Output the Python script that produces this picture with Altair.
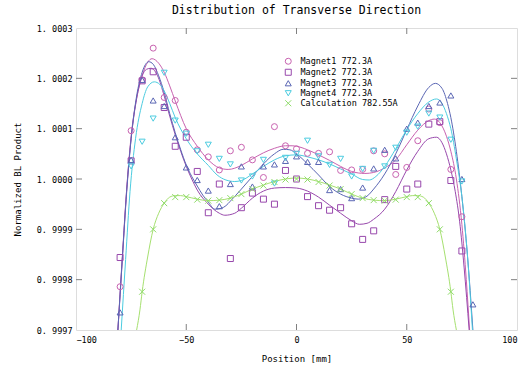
import altair as alt
import pandas as pd

# ---------------- data ----------------
SERIES = ["Magnet1 772.3A", "Magnet2 772.3A", "Magnet3 772.3A",
          "Magnet4 772.3A", "Calculation 782.55A"]
COLORS = ["#c862b0", "#9848ac", "#5a66b4", "#4ccce0", "#8fdc6a"]
LINE_COLORS = ["#c862b0", "#9848ac", "#5a66b4", "#4ccce0", "#a6e070"]
SHAPES = ["circle", "square", "triangle-up", "triangle-down",
          "M-1,-1L1,1M-1,1L1,-1"]

positions = list(range(-80, 85, 5))

# deviations from 1 in units of 1e-4
m1 = [-2.14, 0.96, 1.97, 2.6, 1.62, 1.56, 0.93, 0.58, 0.44, 0.18, 0.56,
      0.63, 0.38, 0.03, 1.04, 0.66, 0.6, 0.51, 0.51, 0.54, 0.17, 0.18,
      0.19, 0.56, 0.5, 0.09, 0.23, 0.76, 1.39, 1.12, 0.19, -0.75, None]
m2 = [-1.56, 0.36, 1.95, 2.13, 1.42, 0.65, 0.83, 0.15, -0.67, -0.1, -1.58,
      -0.57, -0.28, -0.4, -0.5, 0.17, 0.0, -0.35, -0.53, -0.62, -0.57,
      -0.89, -1.2, -1.03, -0.41, 0.25, -0.2, -0.1, 1.09, 1.14, -0.03,
      -1.43, None]
m3 = [-2.65, 0.38, 1.97, 1.56, 1.45, 0.83, 0.23, -0.02, -0.23, -0.54, -0.1,
      0.25, -0.15, 0.25, 0.29, 0.36, 0.45, 0.34, 0.34, -0.22, -0.2, -0.38,
      -0.17, 0.21, 0.58, 0.41, 1.0, 1.12, 1.45, 1.52, 1.66, 0.0, -2.49]
m4 = [None, 0.25, 0.74, 1.2, 2.11, 1.16, 0.9, 0.55, 0.68, 0.4, 0.29, -0.03,
      0.05, 0.38, -0.09, 0.42, 0.5, 0.76, 0.45, 0.28, 0.4, 0.05, 0.2, 0.56,
      0.25, 0.62, 0.92, 1.04, 1.3, 1.22, 0.78, -0.05, None]

calc_positions = list(range(-70, 75, 5))
calc_pts = [-2.24, -1.0, -0.48, -0.36, -0.36, -0.41, -0.43, -0.42, -0.38,
            -0.3, -0.2, -0.13, -0.06, -0.01, 0.0, -0.01, -0.06, -0.13, -0.2,
            -0.3, -0.38, -0.42, -0.43, -0.41, -0.36, -0.36, -0.48, -1.0, -2.24]

# fitted curves (position, deviation)
m1_curve = [(-81, -3.0), (-79, -1.6), (-77, -0.2), (-75, 0.85), (-72.5, 1.6),
            (-70, 2.05), (-67.5, 2.32), (-65.5, 2.39), (-62.5, 2.3),
            (-60, 2.12), (-57.5, 1.85), (-55, 1.55), (-50, 1.0), (-45, 0.65),
            (-40, 0.38), (-35, 0.22), (-31, 0.19), (-25, 0.27), (-20, 0.4),
            (-15, 0.52), (-10, 0.61), (-5, 0.66), (-2, 0.66), (0, 0.65),
            (5, 0.58), (10, 0.48), (15, 0.37), (20, 0.25), (25, 0.15),
            (31, 0.11), (35, 0.13), (40, 0.22), (45, 0.38), (50, 0.68),
            (55, 0.97), (60, 1.16), (62.5, 1.19), (65, 1.12), (68, 0.85),
            (70, 0.55), (72.5, 0.0), (75, -0.9), (77, -2.0), (78.5, -3.0)]
m2_curve = [(-81, -3.0), (-79, -1.55), (-77, -0.2), (-75, 0.8), (-72.5, 1.6),
            (-70, 2.05), (-68, 2.18), (-66, 2.2), (-63, 2.05), (-60, 1.65),
            (-57.5, 1.25), (-55, 0.88), (-52.5, 0.55), (-50, 0.25),
            (-47.5, 0.0), (-45, -0.22), (-40, -0.5), (-35, -0.68),
            (-32.5, -0.72), (-28, -0.68), (-25, -0.58), (-20, -0.38),
            (-15, -0.24), (-10, -0.18), (-5, -0.17), (0, -0.18), (5, -0.24),
            (10, -0.36), (15, -0.52), (20, -0.68), (25, -0.83), (28.5, -0.9),
            (32, -0.88), (35, -0.8), (40, -0.6), (45, -0.25), (50, 0.18),
            (55, 0.55), (60, 0.8), (63.5, 0.83), (66, 0.72), (68, 0.5),
            (70, 0.18), (72, -0.25), (74, -0.85), (76, -1.75), (78.3, -3.0)]
m3_curve = [(-81, -3.0), (-79, -1.6), (-77, -0.25), (-75, 0.8), (-72.5, 1.65),
            (-70, 2.12), (-67, 2.33), (-65, 2.28), (-62.5, 2.05), (-60, 1.72),
            (-57.5, 1.3), (-55, 0.92), (-52.5, 0.58), (-50, 0.28),
            (-47.5, 0.05), (-45, -0.14), (-42.5, -0.32), (-40, -0.46),
            (-37, -0.6), (-34, -0.58), (-32, -0.53), (-30, -0.44), (-25, -0.2),
            (-20, 0.05), (-15, 0.3), (-10, 0.5), (-6, 0.59), (-3, 0.58),
            (0, 0.5), (5, 0.3), (10, 0.08), (15, -0.15), (20, -0.3),
            (25, -0.38), (28, -0.4), (32, -0.34), (35, -0.2), (40, 0.1),
            (45, 0.5), (50, 0.98), (55, 1.45), (60, 1.82), (63, 1.9),
            (66, 1.8), (68.5, 1.5), (70, 1.22), (72.5, 0.55), (75, -0.35),
            (77.5, -1.5), (80, -3.0)]
m4_curve = [(-79.5, -3.0), (-77.5, -1.6), (-75.5, -0.25), (-73, 0.8),
            (-70, 1.5), (-67.5, 1.83), (-64.5, 1.93), (-62, 1.88), (-60, 1.75),
            (-57.5, 1.5), (-55, 1.22), (-50, 0.8), (-45, 0.5), (-40, 0.27),
            (-36, 0.08), (-32, -0.02), (-28, -0.05), (-25, -0.03), (-20, 0.1),
            (-15, 0.25), (-10, 0.38), (-5, 0.46), (0, 0.48), (5, 0.44),
            (10, 0.38), (15, 0.3), (20, 0.2), (25, 0.1), (30, -0.01),
            (33, -0.02), (36, 0.05), (40, 0.25), (45, 0.6), (50, 0.98),
            (55, 1.3), (60, 1.53), (63.5, 1.59), (66, 1.5), (68, 1.3),
            (70, 1.0), (72.5, 0.4), (75, -0.35), (77.5, -1.5), (79.8, -3.0)]
calc_curve = [(-72.5, -3.0), (-71, -2.6), (-70, -2.24), (-67.5, -1.55),
              (-65, -1.0), (-62.5, -0.68), (-60, -0.48), (-57.5, -0.36),
              (-55, -0.33), (-52.5, -0.33), (-50, -0.35), (-45, -0.4),
              (-40, -0.43), (-35, -0.42), (-30, -0.38), (-25, -0.3),
              (-20, -0.2), (-15, -0.12), (-10, -0.05), (-5, 0.0), (0, 0.02),
              (5, 0.0), (10, -0.05), (15, -0.12), (20, -0.2), (25, -0.3),
              (30, -0.38), (35, -0.42), (40, -0.43), (45, -0.4), (50, -0.35),
              (52.5, -0.33), (55, -0.33), (57.5, -0.36), (60, -0.48),
              (62.5, -0.68), (65, -1.0), (67.5, -1.55), (70, -2.24),
              (71, -2.6), (72.5, -3.0)]

x_ticks = [-100, -50, 0, 50, 100]
y_ticks = [0.9997, 0.9998, 0.9999, 1.0000, 1.0001, 1.0002, 1.0003]

# ---------------- tables ----------------
rows = []
for name, vals in zip(SERIES[:4], [m1, m2, m3, m4]):
    for x, d in zip(positions, vals):
        if d is not None:
            rows.append({"series": name, "x": x, "y": 1 + d * 1e-4})
for x, d in zip(calc_positions, calc_pts):
    rows.append({"series": SERIES[4], "x": x, "y": 1 + d * 1e-4})
pts = pd.DataFrame(rows)

crow = []
for name, col, cur in zip(SERIES, LINE_COLORS,
                          [m1_curve, m2_curve, m3_curve, m4_curve, calc_curve]):
    for i, (x, d) in enumerate(cur):
        crow.append({"series": name, "color": col, "order": i, "x": x,
                     "y": 1 + d * 1e-4})
curves = pd.DataFrame(crow)

FONT = "DejaVu Sans Mono"
xs = alt.Scale(domain=[-100, 100], nice=False)
ys = alt.Scale(domain=[0.9997, 1.0003], nice=False, zero=False)

x_axis = alt.Axis(values=x_ticks, tickSize=0, domain=False, grid=False,
                  labelFont=FONT, labelFontSize=8.5, labelPadding=5,
                  labelColor="#000", labelExpr="format(datum.value, 'd')",
                  title="Position [mm]", titleFont=FONT, titleFontSize=9,
                  titleFontWeight="normal", titlePadding=11, titleColor="#000")
y_axis = alt.Axis(values=y_ticks, tickSize=0, domain=False, grid=False,
                  labelFont=FONT, labelFontSize=8.5, labelPadding=4,
                  labelColor="#000",
                  labelExpr="replace(format(datum.value, '.4f'), '.', '. ')",
                  title="Normalized BL Product", titleFont=FONT,
                  titleFontSize=9, titleFontWeight="normal", titlePadding=14,
                  titleColor="#000")

lines = alt.Chart(curves).mark_line(strokeWidth=1, interpolate="monotone",
                                    clip=True).encode(
    x=alt.X("x:Q", scale=xs, axis=x_axis),
    y=alt.Y("y:Q", scale=ys, axis=y_axis),
    color=alt.Color("color:N", scale=None),
    detail="series:N",
    order="order:Q",
)

leg = alt.Legend(title=None, orient="none", legendX=208, legendY=29,
                 labelFont=FONT, labelFontSize=8.5, labelColor="#000",
                 rowPadding=0, symbolSize=36, symbolStrokeWidth=1,
                 labelOffset=8, padding=0)
points = alt.Chart(pts).mark_point(filled=False, size=36, strokeWidth=1,
                                   opacity=1, clip=True).encode(
    x=alt.X("x:Q", scale=xs),
    y=alt.Y("y:Q", scale=ys),
    color=alt.Color("series:N", scale=alt.Scale(domain=SERIES, range=COLORS),
                    legend=leg),
    shape=alt.Shape("series:N", scale=alt.Scale(domain=SERIES, range=SHAPES),
                    legend=leg),
)

xt = pd.DataFrame({"t": x_ticks[1:-1]})
yt = pd.DataFrame({"t": y_ticks[1:-1]})
TC = "#808080"
xt_bottom = alt.Chart(xt).mark_rule(color=TC, strokeWidth=1).encode(
    x=alt.X("t:Q", scale=xs), y=alt.value(296), y2=alt.value(302))
xt_top = alt.Chart(xt).mark_rule(color=TC, strokeWidth=1).encode(
    x=alt.X("t:Q", scale=xs), y=alt.value(0), y2=alt.value(6))
yt_left = alt.Chart(yt).mark_rule(color=TC, strokeWidth=1).encode(
    y=alt.Y("t:Q", scale=ys), x=alt.value(0), x2=alt.value(6))
yt_right = alt.Chart(yt).mark_rule(color=TC, strokeWidth=1).encode(
    y=alt.Y("t:Q", scale=ys), x=alt.value(435), x2=alt.value(441))

chart = alt.layer(xt_bottom, xt_top, yt_left, yt_right, lines, points).properties(
    width=441, height=302,
    title=alt.Title("Distribution of Transverse Direction", font=FONT,
                    fontSize=11.5, fontWeight="normal", color="#000",
                    anchor="middle", offset=8),
    autosize=alt.AutoSizeParams(type="none"),
    padding={"left": 76, "top": 28, "right": 12, "bottom": 39},
).configure_view(stroke=TC, strokeWidth=1).configure(background="white")

chart.save("out.html", embed_options={"renderer": "svg", "actions": False})
